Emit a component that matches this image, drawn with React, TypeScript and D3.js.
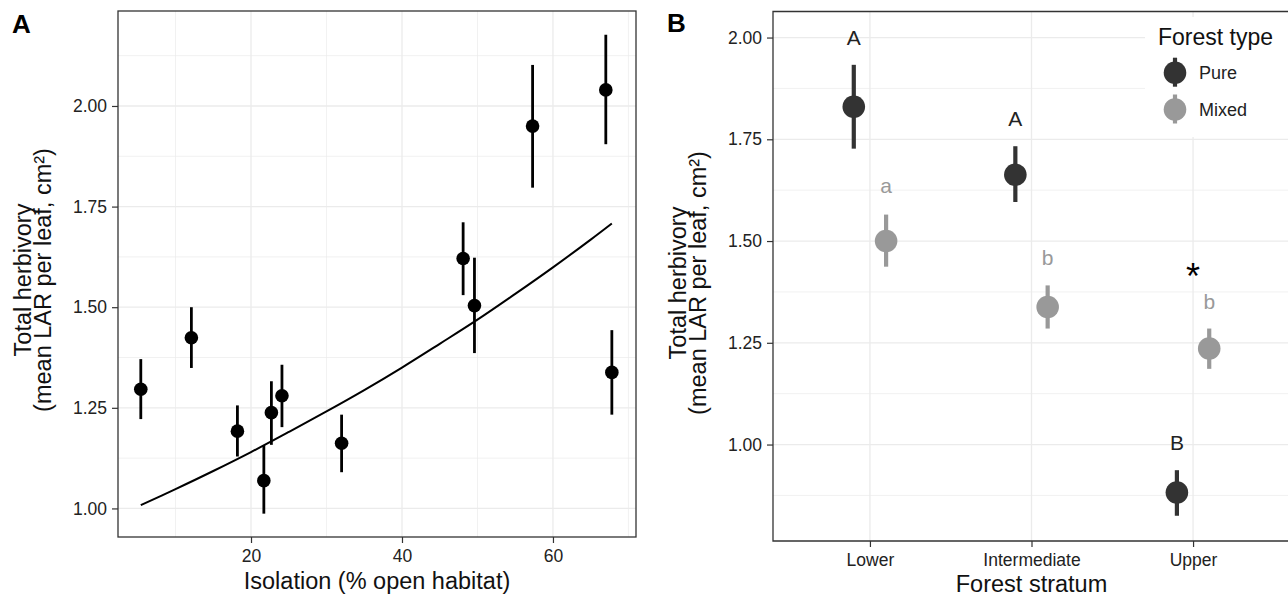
import React, { useEffect, useRef } from 'react';
import * as d3 from 'd3';

// panel A: herbivory vs isolation, one point per site
const isolation = [5.4, 12.1, 18.2, 21.7, 22.7, 24.1, 32.0, 48.1, 49.6, 57.3, 67.0, 67.8];
const herbA = [1.296, 1.424, 1.192, 1.069, 1.238, 1.280, 1.162, 1.621, 1.504, 1.950, 2.040, 1.338];
const herbALo = [1.222, 1.349, 1.129, 0.987, 1.158, 1.202, 1.090, 1.530, 1.386, 1.797, 1.905, 1.233];
const herbAHi = [1.371, 1.500, 1.256, 1.157, 1.316, 1.357, 1.233, 1.711, 1.623, 2.102, 2.177, 1.443];

// fitted curve
const fitX = [5.4, 10, 15, 20, 25, 30, 35, 40, 45, 50, 55, 60, 65, 67.8];
const fitY = [1.008, 1.048, 1.093, 1.140, 1.190, 1.241, 1.294, 1.350, 1.409, 1.469, 1.533, 1.599, 1.668, 1.708];

const xTicksA = [20, 40, 60];
const yTicks = [1.0, 1.25, 1.5, 1.75, 2.0];

// panel B: forest stratum x forest type
const strata = ['Lower', 'Intermediate', 'Upper'];
const forestTypes = ['Pure', 'Mixed'];
const pureMean = [1.830, 1.663, 0.882];
const pureLo = [1.727, 1.596, 0.825];
const pureHi = [1.933, 1.733, 0.937];
const mixedMean = [1.500, 1.338, 1.236];
const mixedLo = [1.437, 1.285, 1.186];
const mixedHi = [1.565, 1.391, 1.285];
const pureLetters = ['A', 'A', 'B'];
const pureLetterY = [2.0, 1.801, 1.006];
const mixedLetters = ['a', 'b', 'b'];
const mixedLetterY = [1.631, 1.459, 1.352];
const starStratum = 'Upper';
const starY = 1.432;

const W = 1288;
const H = 597;
const FONT = '"Liberation Sans", Arial, Helvetica, sans-serif';
const typeColor = { Pure: '#333333', Mixed: '#999999' };

function grid(g, x1, x2, y1, y2, xs, ys, width) {
    xs.forEach((v) => {
        g.append('line').attr('x1', v).attr('x2', v).attr('y1', y1).attr('y2', y2)
            .attr('stroke', '#ebebeb').attr('stroke-width', width);
    });
    ys.forEach((v) => {
        g.append('line').attr('x1', x1).attr('x2', x2).attr('y1', v).attr('y2', v)
            .attr('stroke', '#ebebeb').attr('stroke-width', width);
    });
}

function styleAxis(g) {
    g.select('.domain').remove();
    g.selectAll('.tick line').attr('stroke', '#333').attr('stroke-width', 1.2);
    g.selectAll('.tick text').attr('fill', '#222').style('font-size', '17.5px').style('font-family', FONT);
}

function yTitle(svg, x, y) {
    const t = svg.append('text')
        .attr('transform', `translate(${x},${y}) rotate(-90)`)
        .attr('text-anchor', 'middle')
        .style('font-size', '23.5px')
        .attr('fill', '#111');
    t.append('tspan').attr('x', 0).attr('y', 0).text('Total herbivory');
    t.append('tspan').attr('x', 0).attr('y', 19.5).text('(mean LAR per leaf, cm²)');
}

function drawA(svg) {
    const L = 118, R = 636, T = 11, B = 537;
    const x = d3.scaleLinear().domain([2.38, 71.0]).range([L, R]);
    const y = d3.scaleLinear().domain([0.929, 2.236]).range([B, T]);
    const g = svg.append('g');

    grid(g, L, R, T, B, [10, 30, 50, 70].map(x), [1.125, 1.375, 1.625, 1.875, 2.125].map(y), 0.7);
    grid(g, L, R, T, B, xTicksA.map(x), yTicks.map(y), 1.3);

    const curve = d3.line().curve(d3.curveCatmullRom)
        .x((d) => x(d[0])).y((d) => y(d[1]));
    g.append('path')
        .datum(fitX.map((v, i) => [v, fitY[i]]))
        .attr('d', curve)
        .attr('fill', 'none').attr('stroke', '#000').attr('stroke-width', 2);

    isolation.forEach((v, i) => {
        g.append('line').attr('x1', x(v)).attr('x2', x(v))
            .attr('y1', y(herbALo[i])).attr('y2', y(herbAHi[i]))
            .attr('stroke', '#000').attr('stroke-width', 2.8);
        g.append('circle').attr('cx', x(v)).attr('cy', y(herbA[i])).attr('r', 6.8).attr('fill', '#000');
    });

    g.append('rect').attr('x', L).attr('y', T).attr('width', R - L).attr('height', B - T)
        .attr('fill', 'none').attr('stroke', '#333').attr('stroke-width', 1.3);

    svg.append('g').attr('transform', `translate(${L},0)`)
        .call(d3.axisLeft(y).tickValues(yTicks).tickFormat(d3.format('.2f')).tickSize(6).tickPadding(5))
        .call(styleAxis);
    svg.append('g').attr('transform', `translate(0,${B})`)
        .call(d3.axisBottom(x).tickValues(xTicksA).tickFormat(d3.format('d')).tickSize(6).tickPadding(7))
        .call(styleAxis);

    svg.append('text').attr('x', (L + R) / 2).attr('y', 589).attr('text-anchor', 'middle')
        .style('font-size', '23.5px').attr('fill', '#111').text('Isolation (% open habitat)');
    yTitle(svg, 31, 280);
    svg.append('text').attr('x', 12).attr('y', 32.5).style('font-size', '26px')
        .style('font-weight', 'bold').attr('fill', '#000').text('A');
}

function drawB(svg) {
    const L = 773, R = 1290, T = 11.5, B = 541;
    const x = d3.scalePoint().domain(strata).range([L, R]).padding(0.6);
    const y = d3.scaleLinear().domain([0.763, 2.064]).range([B, T]);
    const dodge = x.step() * 0.1;
    const g = svg.append('g');

    grid(g, L, R, T, B, [], [0.875, 1.125, 1.375, 1.625, 1.875].map(y), 0.7);
    grid(g, L, R, T, B, strata.map(x), yTicks.map(y), 1.3);

    const series = [
        { type: 'Pure', mean: pureMean, lo: pureLo, hi: pureHi, off: -dodge },
        { type: 'Mixed', mean: mixedMean, lo: mixedLo, hi: mixedHi, off: dodge },
    ];
    series.forEach((s) => {
        strata.forEach((c, i) => {
            const cx = x(c) + s.off;
            g.append('line').attr('x1', cx).attr('x2', cx)
                .attr('y1', y(s.lo[i])).attr('y2', y(s.hi[i]))
                .attr('stroke', typeColor[s.type]).attr('stroke-width', 4.2);
            g.append('circle').attr('cx', cx).attr('cy', y(s.mean[i])).attr('r', 11.3)
                .attr('fill', typeColor[s.type]);
        });
    });

    // legend sits inside the panel, under the letters
    const lg = g.append('g');
    lg.append('rect').attr('x', 1145).attr('y', 17).attr('width', 150).attr('height', 120).attr('fill', '#fff');
    lg.append('text').attr('x', 1158).attr('y', 45).style('font-size', '23px').attr('fill', '#111').text('Forest type');
    forestTypes.forEach((t, i) => {
        const cy = 72.7 + i * 36.8;
        lg.append('line').attr('x1', 1175).attr('x2', 1175).attr('y1', cy - 15).attr('y2', cy + 14)
            .attr('stroke', typeColor[t]).attr('stroke-width', 4.2);
        lg.append('circle').attr('cx', 1175).attr('cy', cy).attr('r', 11.3).attr('fill', typeColor[t]);
        lg.append('text').attr('x', 1199).attr('y', cy).attr('dy', '0.36em')
            .style('font-size', '18px').attr('fill', '#222').text(t);
    });

    strata.forEach((c, i) => {
        g.append('text').attr('x', x(c) - dodge).attr('y', y(pureLetterY[i])).attr('dy', '0.36em')
            .attr('text-anchor', 'middle').style('font-size', '21px').attr('fill', '#222').text(pureLetters[i]);
        g.append('text').attr('x', x(c) + dodge).attr('y', y(mixedLetterY[i]))
            .attr('dy', mixedLetters[i] === 'a' ? '0.27em' : '0.36em')
            .attr('text-anchor', 'middle').style('font-size', '21px').attr('fill', '#999').text(mixedLetters[i]);
    });
    g.append('text').attr('x', x(starStratum)).attr('y', y(starY)).attr('dy', '0.57em')
        .attr('text-anchor', 'middle').style('font-size', '36px').attr('fill', '#000').text('*');

    g.append('path').attr('d', `M${R},${B}H${L}V${T}H${R}`)
        .attr('fill', 'none').attr('stroke', '#333').attr('stroke-width', 1.3);

    svg.append('g').attr('transform', `translate(${L},0)`)
        .call(d3.axisLeft(y).tickValues(yTicks).tickFormat(d3.format('.2f')).tickSize(6).tickPadding(5))
        .call(styleAxis);
    svg.append('g').attr('transform', `translate(0,${B})`)
        .call(d3.axisBottom(x).tickSize(6).tickPadding(7))
        .call(styleAxis);

    svg.append('text').attr('x', (L + R) / 2).attr('y', 592).attr('text-anchor', 'middle')
        .style('font-size', '23.5px').attr('fill', '#111').text('Forest stratum');
    yTitle(svg, 686, 283);
    svg.append('text').attr('x', 667).attr('y', 32).style('font-size', '26px')
        .style('font-weight', 'bold').attr('fill', '#000').text('B');
}

export default function App() {
    const ref = useRef(null);
    useEffect(() => {
        const svg = d3.select(ref.current);
        svg.selectAll('*').remove();
        svg.append('rect').attr('width', W).attr('height', H).attr('fill', '#fff');
        drawA(svg);
        drawB(svg);
    }, []);
    return (
        <svg ref={ref} width={W} height={H} fontFamily={FONT}
            style={{ position: 'absolute', left: 0, top: 0, display: 'block' }} />
    );
}
